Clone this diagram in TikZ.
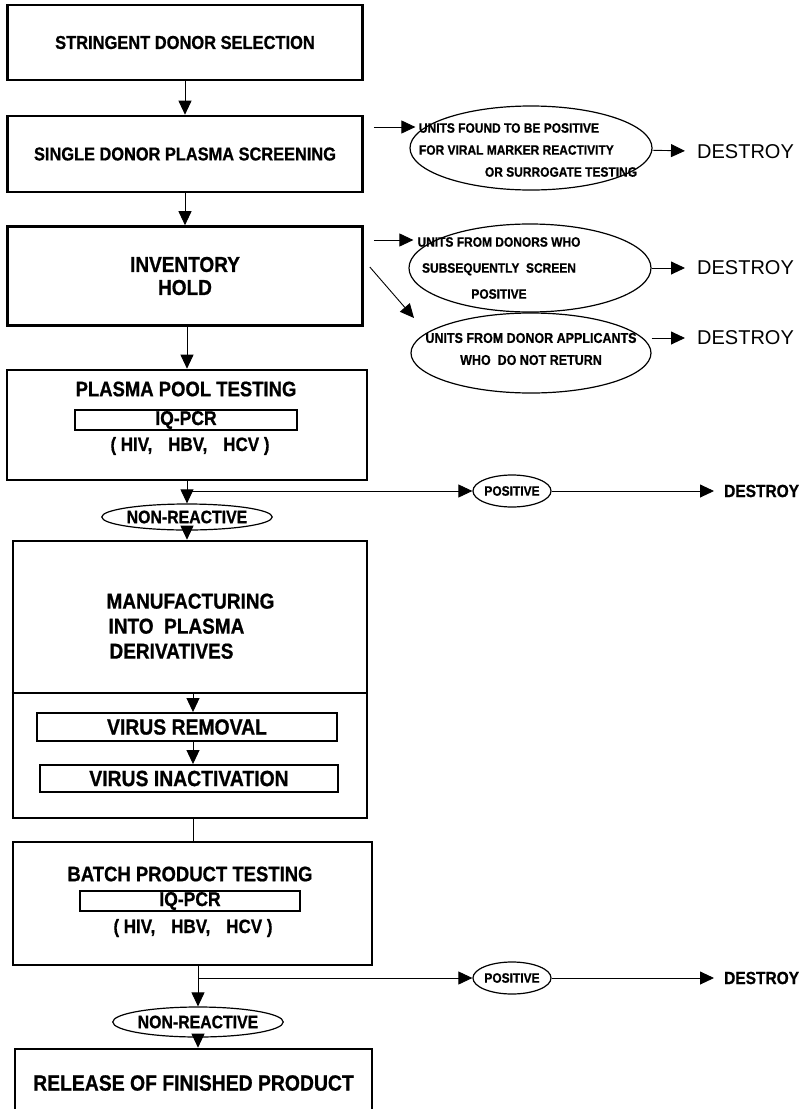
\documentclass[tikz,border=0pt]{standalone}
\usepackage{fontspec}
\setmainfont{Liberation Sans}[FakeStretch=0.88,BoldFeatures={FakeBold=0.8}]
\newfontfamily\plainsans{Liberation Sans}
\usetikzlibrary{arrows.meta,shapes.geometric,positioning}
\newcommand{\fsz}[2]{\fontsize{#1}{#2}\selectfont\bfseries}

\begin{document}
\begin{tikzpicture}[x=1pt,y=-1pt,>={Triangle[width=13pt,length=14pt]},
 box/.style={draw,line width=2.6pt,minimum width=355pt,inner sep=0pt},
 bar/.style={draw,line width=1.9pt,inner sep=0pt},
 blob/.style={draw,ellipse,line width=1.2pt,inner sep=0pt},
 link/.style={line width=0.9pt},
 gone/.style={anchor=west,inner sep=0pt,font=\plainsans\fontsize{20}{20}\selectfont},
 goneb/.style={anchor=west,inner sep=0pt,font=\fsz{17.6}{18}}]
 \useasboundingbox (0,0) rectangle (805,1109);

 % main column
 \node[box,minimum height=75pt,font=\fsz{18.7}{20}] (sel) at (185,42.5) {STRINGENT DONOR SELECTION};
 \node[box,minimum height=76pt,font=\fsz{18.6}{20}] (scr) at (185,154) {SINGLE DONOR PLASMA SCREENING};
 \node[box,minimum height=99pt,align=center,font=\fsz{21.6}{23}] (inv) at (185,276) {INVENTORY\\HOLD};
 \node[box,minimum width=360pt,minimum height=110pt] (pool) at (187,425) {};
 \node[font=\fsz{21}{22}] (pooltxt) at (186,389) {PLASMA POOL TESTING};
 \node[bar,minimum width=222pt,minimum height=20pt,font=\fsz{19.9}{20}] (pcr1) at (186,420) {IQ-PCR};
 \node[font=\fsz{19.3}{20}] (vir1) at (190,446) {( HIV,\hspace{16pt}HBV,\hspace{16pt}HCV )};
 \coordinate (j1) at (187,491);
 \node[blob,minimum width=138pt,minimum height=26pt,font=\fsz{18}{18}] (nr1) at (187,517) {NON-REACTIVE};

 \node[box,minimum width=354pt,minimum height=277pt] (mfg) at (190,679.5) {};
 \node[anchor=north west,align=left,font=\fsz{21.6}{25}] (mfgtxt) at (103,590) {MANUFACTURING\\\hspace*{2pt}INTO\ \ PLASMA\\\hspace*{3pt}DERIVATIVES};
 \coordinate (split) at (193,693);
 \node[bar,minimum width=300pt,minimum height=28pt,font=\fsz{22}{22}] (rem) at (187,727) {VIRUS REMOVAL};
 \node[bar,minimum width=298pt,minimum height=27pt,font=\fsz{22}{22}] (inact) at (189,778.5) {VIRUS INACTIVATION};

 \node[box,minimum width=359pt,minimum height=123pt] (batch) at (192.5,903.5) {};
 \node[font=\fsz{21}{22}] (batchtxt) at (190,874) {BATCH PRODUCT TESTING};
 \node[bar,minimum width=220pt,minimum height=20pt,font=\fsz{19.9}{20}] (pcr2) at (190,901) {IQ-PCR};
 \node[font=\fsz{19.3}{20}] (vir2) at (193,928) {( HIV,\hspace{16pt}HBV,\hspace{16pt}HCV )};
 \coordinate (j2) at (198,978);
 \node[blob,minimum width=143pt,minimum height=30pt,font=\fsz{18}{18}] (nr2) at (198,1022) {NON-REACTIVE};
 \node[box,minimum width=357pt,minimum height=68pt,font=\fsz{22}{22}] (rel) at (193.5,1083) {RELEASE OF FINISHED PRODUCT};

 % side branches
 \node[blob,minimum width=242pt,minimum height=84pt,
  label={[xshift=-3pt,yshift=-2pt,align=left,font=\fsz{13.6}{22}]center:UNITS FOUND TO BE POSITIVE\\FOR VIRAL MARKER REACTIVITY\\\hspace*{66pt}OR SURROGATE TESTING}] (u1) at (531,148) {};
 \node[blob,minimum width=242pt,minimum height=88pt,
  label={[xshift=-31pt,align=center,font=\fsz{13.6}{26}]center:UNITS FROM DONORS WHO\\SUBSEQUENTLY\ \ SCREEN\\POSITIVE}] (u2) at (530,268) {};
 \node[blob,minimum width=240pt,minimum height=80pt,
  label={[yshift=4pt,align=center,font=\fsz{14.2}{22}]center:UNITS FROM DONOR APPLICANTS\\WHO\ \ DO NOT RETURN}] (u3) at (531,353) {};
 \node[gone] (d1) at (697,152) {DESTROY};
 \node[gone] (d2) at (697,268) {DESTROY};
 \node[gone] (d3) at (697,338) {DESTROY};

 \node[blob,minimum width=68pt,minimum height=32pt,font=\fsz{13.6}{14}] (pos1) at (512,491) {POSITIVE};
 \node[goneb] (dp1) at (724,491) {DESTROY};
 \node[blob,minimum width=68pt,minimum height=32pt,font=\fsz{13.6}{14}] (pos2) at (512,978) {POSITIVE};
 \node[goneb] (dp2) at (724,978) {DESTROY};

 \coordinate (s1) at ([xshift=10pt,yshift=27pt]scr.east);
 \coordinate (s2) at ([xshift=10pt,yshift=36pt]inv.east);
 \coordinate (s3) at ([xshift=6pt,yshift=9pt]inv.east);
 \coordinate (t3) at ([xshift=-117pt,yshift=35pt]u3.center);

 \draw[link,->] (sel) -- (scr);
 \draw[link,->] (scr) -- (inv);
 \draw[link,->] (inv.south -| pool) -- (pool);
 \draw[link] (pool) -- (j1);
 \draw[link,->] (j1) -- (nr1);
 \draw[link,->] (j1) -- (pos1);
 \draw[link,->] (nr1) -- (nr1 |- mfg.north);
 \draw[line width=1.2pt] (split -| mfg.west) -- (split -| mfg.east);
 \draw[link,->] (split) -- (split |- rem.north);
 \draw[link,->] (split |- rem.south) -- (split |- inact.north);
 \draw[link] (split |- mfg.south) -- (split |- batch.north);
 \draw[link] (j2 |- batch.south) -- (j2);
 \draw[link,->] (j2) -- (nr2);
 \draw[link,->] (j2) -- (pos2);
 \draw[link,->] (nr2) -- (nr2 |- rel.north);

 \draw[link,->] (s1) -- ([xshift=6pt]s1 -| u1.west);
 \draw[link,->] (s2) -- ([xshift=5pt]s2 -| u2.west);
 \draw[link,->] (s3) -- (t3);
 \draw[link,->,shorten >=12pt] (u1) -- (d1);
 \draw[link,->,shorten >=12pt] (u2) -- (d2);
 \draw[link,->,shorten >=12pt] (u3.east |- d3) -- (d3);
 \draw[link,->,shorten >=10pt] (pos1) -- (dp1);
 \draw[link,->,shorten >=10pt] (pos2) -- (dp2);
\end{tikzpicture}
\end{document}
